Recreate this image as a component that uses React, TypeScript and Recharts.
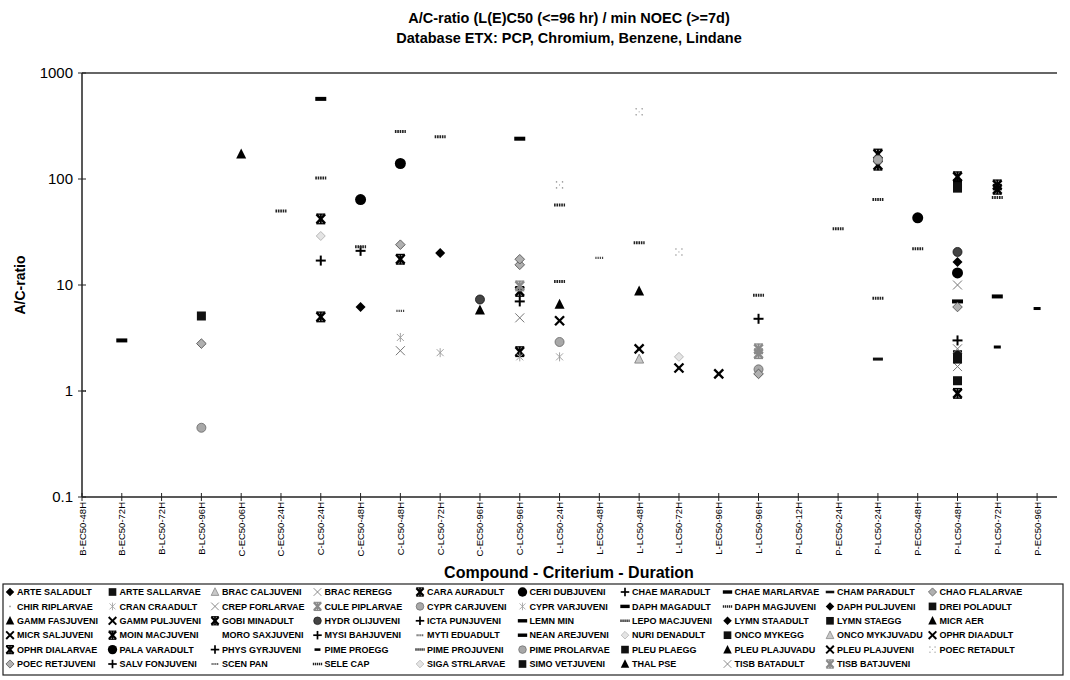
import React from 'react';
import { ScatterChart, Scatter, XAxis, YAxis, ReferenceLine } from 'recharts';

// ---------- Data ----------
const CATEGORIES = [
  'B-EC50-48H', 'B-EC50-72H', 'B-LC50-72H', 'B-LC50-96H',
  'C-EC50-06H', 'C-EC50-24H', 'C-LC50-24H', 'C-EC50-48H', 'C-LC50-48H', 'C-LC50-72H', 'C-EC50-96H', 'C-LC50-96H',
  'L-LC50-24H', 'L-EC50-48H', 'L-LC50-48H', 'L-LC50-72H', 'L-EC50-96H', 'L-LC50-96H',
  'P-LC50-12H', 'P-EC50-24H', 'P-LC50-24H', 'P-EC50-48H', 'P-LC50-48H', 'P-LC50-72H', 'P-EC50-96H',
];

const Y_TICKS = [0.1, 1, 10, 100, 1000];

const SERIES_NAMES = [
  'ARTE SALADULT', 'ARTE SALLARVAE', 'BRAC CALJUVENI', 'BRAC REREGG', 'CARA AURADULT',
  'CERI DUBJUVENI', 'CHAE MARADULT', 'CHAE MARLARVAE', 'CHAM PARADULT', 'CHAO FLALARVAE',
  'CHIR RIPLARVAE', 'CRAN CRAADULT', 'CREP FORLARVAE', 'CULE PIPLARVAE', 'CYPR CARJUVENI',
  'CYPR VARJUVENI', 'DAPH MAGADULT', 'DAPH MAGJUVENI', 'DAPH PULJUVENI', 'DREI POLADULT',
  'GAMM FASJUVENI', 'GAMM PULJUVENI', 'GOBI MINADULT', 'HYDR OLIJUVENI', 'ICTA PUNJUVENI',
  'LEMN MIN', 'LEPO MACJUVENI', 'LYMN STAADULT', 'LYMN STAEGG', 'MICR AER',
  'MICR SALJUVENI', 'MOIN MACJUVENI', 'MORO SAXJUVENI', 'MYSI BAHJUVENI', 'MYTI EDUADULT',
  'NEAN AREJUVENI', 'NURI DENADULT', 'ONCO MYKEGG', 'ONCO MYKJUVADU', 'OPHR DIAADULT',
  'OPHR DIALARVAE', 'PALA VARADULT', 'PHYS GYRJUVENI', 'PIME PROEGG', 'PIME PROJUVENI',
  'PIME PROLARVAE', 'PLEU PLAEGG', 'PLEU PLAJUVADU', 'PLEU PLAJUVENI', 'POEC RETADULT',
  'POEC RETJUVENI', 'SALV FONJUVENI', 'SCEN PAN', 'SELE CAP', 'SIGA STRLARVAE',
  'SIMO VETJUVENI', 'THAL PSE', 'TISB BATADULT', 'TISB BATJUVENI',
];

type Obs = [string, string, number];

const BENZENE_POINTS: Obs[] = [
  ['SCEN PAN', 'B-EC50-48H', 1.0],
  ['LEMN MIN', 'B-EC50-72H', 3.0],
  ['ARTE SALLARVAE', 'B-LC50-96H', 5.1],
  ['CHAO FLALARVAE', 'B-LC50-96H', 2.8],
  ['CYPR CARJUVENI', 'B-LC50-96H', 0.45],
];

const CHROMIUM_POINTS: Obs[] = [
  ['MICR AER', 'C-EC50-06H', 172],
  ['SELE CAP', 'C-EC50-24H', 50],
  ['DAPH MAGADULT', 'C-LC50-24H', 570],
  ['DAPH MAGJUVENI', 'C-LC50-24H', 102],
  ['CARA AURADULT', 'C-LC50-24H', 42],
  ['SIGA STRLARVAE', 'C-LC50-24H', 29],
  ['CHAE MARADULT', 'C-LC50-24H', 17],
  ['GOBI MINADULT', 'C-LC50-24H', 5],
  ['CERI DUBJUVENI', 'C-EC50-48H', 64],
  ['PIME PROJUVENI', 'C-EC50-48H', 23],
  ['ICTA PUNJUVENI', 'C-EC50-48H', 21],
  ['DAPH PULJUVENI', 'C-EC50-48H', 6.2],
  ['PIME PROJUVENI', 'C-LC50-48H', 280],
  ['PALA VARADULT', 'C-LC50-48H', 140],
  ['POEC RETJUVENI', 'C-LC50-48H', 24],
  ['MOIN MACJUVENI', 'C-LC50-48H', 17.5],
  ['MYTI EDUADULT', 'C-LC50-48H', 5.7],
  ['CYPR VARJUVENI', 'C-LC50-48H', 3.2],
  ['TISB BATADULT', 'C-LC50-48H', 2.4],
  ['LEPO MACJUVENI', 'C-LC50-72H', 250],
  ['ARTE SALADULT', 'C-LC50-72H', 20],
  ['CRAN CRAADULT', 'C-LC50-72H', 2.3],
  ['HYDR OLIJUVENI', 'C-EC50-96H', 7.3],
  ['GAMM FASJUVENI', 'C-EC50-96H', 5.8],
  ['NEAN AREJUVENI', 'C-LC50-96H', 240],
  ['POEC RETJUVENI', 'C-LC50-96H', 17.5],
  ['CHAO FLALARVAE', 'C-LC50-96H', 15.5],
  ['TISB BATJUVENI', 'C-LC50-96H', 9.8],
  ['OPHR DIALARVAE', 'C-LC50-96H', 8.7],
  ['MYSI BAHJUVENI', 'C-LC50-96H', 7.0],
  ['CREP FORLARVAE', 'C-LC50-96H', 4.9],
  ['CARA AURADULT', 'C-LC50-96H', 2.35],
  ['CYPR VARJUVENI', 'C-LC50-96H', 2.1],
];

const LINDANE_POINTS: Obs[] = [
  ['POEC RETADULT', 'L-LC50-24H', 88],
  ['PIME PROJUVENI', 'L-LC50-24H', 57],
  ['LEPO MACJUVENI', 'L-LC50-24H', 10.8],
  ['PLEU PLAJUVADU', 'L-LC50-24H', 6.6],
  ['GAMM PULJUVENI', 'L-LC50-24H', 4.6],
  ['CYPR CARJUVENI', 'L-LC50-24H', 2.9],
  ['CRAN CRAADULT', 'L-LC50-24H', 2.1],
  ['MYTI EDUADULT', 'L-EC50-48H', 18],
  ['POEC RETADULT', 'L-LC50-48H', 430],
  ['DAPH MAGJUVENI', 'L-LC50-48H', 25],
  ['THAL PSE', 'L-LC50-48H', 8.8],
  ['MICR SALJUVENI', 'L-LC50-48H', 2.5],
  ['BRAC CALJUVENI', 'L-LC50-48H', 2.0],
  ['POEC RETADULT', 'L-LC50-72H', 20.5],
  ['NURI DENADULT', 'L-LC50-72H', 2.1],
  ['OPHR DIAADULT', 'L-LC50-72H', 1.65],
  ['PLEU PLAJUVENI', 'L-EC50-96H', 1.45],
  ['LEPO MACJUVENI', 'L-LC50-96H', 8.0],
  ['SALV FONJUVENI', 'L-LC50-96H', 4.8],
  ['CULE PIPLARVAE', 'L-LC50-96H', 2.5],
  ['TISB BATJUVENI', 'L-LC50-96H', 2.25],
  ['PIME PROLARVAE', 'L-LC50-96H', 1.6],
  ['POEC RETJUVENI', 'L-LC50-96H', 1.45],
];

const PCP_POINTS: Obs[] = [
  ['SELE CAP', 'P-EC50-24H', 34],
  ['OPHR DIALARVAE', 'P-LC50-24H', 172],
  ['PIME PROLARVAE', 'P-LC50-24H', 152],
  ['GOBI MINADULT', 'P-LC50-24H', 135],
  ['DAPH MAGJUVENI', 'P-LC50-24H', 64],
  ['LEPO MACJUVENI', 'P-LC50-24H', 7.5],
  ['CHAM PARADULT', 'P-LC50-24H', 2.0],
  ['PALA VARADULT', 'P-EC50-48H', 43],
  ['PIME PROJUVENI', 'P-EC50-48H', 22],
  ['MOIN MACJUVENI', 'P-LC50-48H', 105],
  ['LYMN STAEGG', 'P-LC50-48H', 90],
  ['PLEU PLAEGG', 'P-LC50-48H', 82],
  ['HYDR OLIJUVENI', 'P-LC50-48H', 20.5],
  ['LYMN STAADULT', 'P-LC50-48H', 16.5],
  ['CERI DUBJUVENI', 'P-LC50-48H', 13],
  ['BRAC REREGG', 'P-LC50-48H', 10],
  ['NEAN AREJUVENI', 'P-LC50-48H', 7.0],
  ['POEC RETJUVENI', 'P-LC50-48H', 6.2],
  ['PHYS GYRJUVENI', 'P-LC50-48H', 3.0],
  ['TISB BATADULT', 'P-LC50-48H', 2.5],
  ['DREI POLADULT', 'P-LC50-48H', 2.2],
  ['ONCO MYKEGG', 'P-LC50-48H', 2.0],
  ['CREP FORLARVAE', 'P-LC50-48H', 1.7],
  ['SIMO VETJUVENI', 'P-LC50-48H', 1.25],
  ['CARA AURADULT', 'P-LC50-48H', 0.95],
  ['OPHR DIALARVAE', 'P-LC50-72H', 88],
  ['GOBI MINADULT', 'P-LC50-72H', 80],
  ['PIME PROJUVENI', 'P-LC50-72H', 67],
  ['CHAE MARLARVAE', 'P-LC50-72H', 7.8],
  ['PIME PROEGG', 'P-LC50-72H', 2.6],
  ['PIME PROEGG', 'P-EC50-96H', 6.0],
];

// ---------- Styles (marker per series) ----------
type MarkerType =
  | 'diamond' | 'square' | 'triangle' | 'triangleGray' | 'circle' | 'circleGray' | 'circleDark'
  | 'plus' | 'x' | 'xbar' | 'xbarGray' | 'xthin' | 'dash' | 'dashSmall' | 'dashThin' | 'dashDot'
  | 'dashDotSmall' | 'diamondGray' | 'diamondLight' | 'star' | 'dots' | 'dot' | 'none';

const SERIES_MARKER: Record<string, MarkerType> = {
  'ARTE SALADULT': 'diamond', 'ARTE SALLARVAE': 'square', 'BRAC CALJUVENI': 'triangleGray',
  'BRAC REREGG': 'xthin', 'CARA AURADULT': 'xbar', 'CERI DUBJUVENI': 'circle',
  'CHAE MARADULT': 'plus', 'CHAE MARLARVAE': 'dash', 'CHAM PARADULT': 'dashThin',
  'CHAO FLALARVAE': 'diamondGray', 'CHIR RIPLARVAE': 'dot', 'CRAN CRAADULT': 'star',
  'CREP FORLARVAE': 'xthin', 'CULE PIPLARVAE': 'xbarGray', 'CYPR CARJUVENI': 'circleGray',
  'CYPR VARJUVENI': 'star', 'DAPH MAGADULT': 'dash', 'DAPH MAGJUVENI': 'dashDot',
  'DAPH PULJUVENI': 'diamond', 'DREI POLADULT': 'square', 'GAMM FASJUVENI': 'triangle',
  'GAMM PULJUVENI': 'x', 'GOBI MINADULT': 'xbar', 'HYDR OLIJUVENI': 'circleDark',
  'ICTA PUNJUVENI': 'plus', 'LEMN MIN': 'dash', 'LEPO MACJUVENI': 'dashDot',
  'LYMN STAADULT': 'diamond', 'LYMN STAEGG': 'square', 'MICR AER': 'triangle',
  'MICR SALJUVENI': 'x', 'MOIN MACJUVENI': 'xbar', 'MORO SAXJUVENI': 'none',
  'MYSI BAHJUVENI': 'plus', 'MYTI EDUADULT': 'dashDotSmall', 'NEAN AREJUVENI': 'dash',
  'NURI DENADULT': 'diamondLight', 'ONCO MYKEGG': 'square', 'ONCO MYKJUVADU': 'triangleGray',
  'OPHR DIAADULT': 'x', 'OPHR DIALARVAE': 'xbar', 'PALA VARADULT': 'circle',
  'PHYS GYRJUVENI': 'plus', 'PIME PROEGG': 'dashSmall', 'PIME PROJUVENI': 'dashDot',
  'PIME PROLARVAE': 'circleGray', 'PLEU PLAEGG': 'square', 'PLEU PLAJUVADU': 'triangle',
  'PLEU PLAJUVENI': 'x', 'POEC RETADULT': 'dots', 'POEC RETJUVENI': 'diamondGray',
  'SALV FONJUVENI': 'plus', 'SCEN PAN': 'dashDotSmall', 'SELE CAP': 'dashDot',
  'SIGA STRLARVAE': 'diamondLight', 'SIMO VETJUVENI': 'square', 'THAL PSE': 'triangle',
  'TISB BATADULT': 'xthin', 'TISB BATJUVENI': 'xbarGray',
};

const FONT = "Arial, 'Liberation Sans', Helvetica, sans-serif";

function Marker({ type, cx, cy }: { type: MarkerType; cx: number; cy: number }) {
  if (cx == null || cy == null || isNaN(cx) || isNaN(cy)) return null;
  const d = (s: number) => `${cx},${cy - s} ${cx + s},${cy} ${cx},${cy + s} ${cx - s},${cy}`;
  switch (type) {
    case 'diamond':
      return <polygon points={d(5)} fill="#000" />;
    case 'diamondGray':
      return <polygon points={d(4.8)} fill="#b0b0b0" stroke="#555" strokeWidth={0.9} />;
    case 'diamondLight':
      return <polygon points={d(4.5)} fill="#e4e4e4" stroke="#aaa" strokeWidth={0.8} />;
    case 'square':
      return <rect x={cx - 4.5} y={cy - 4.5} width={9} height={9} fill="#111" />;
    case 'triangle':
      return <polygon points={`${cx},${cy - 5.5} ${cx + 5},${cy + 4.5} ${cx - 5},${cy + 4.5}`} fill="#000" />;
    case 'triangleGray':
      return <polygon points={`${cx},${cy - 5} ${cx + 4.5},${cy + 4} ${cx - 4.5},${cy + 4}`} fill="#c8c8c8" stroke="#777" strokeWidth={0.8} />;
    case 'circle':
      return <circle cx={cx} cy={cy} r={5.5} fill="#000" />;
    case 'circleGray':
      return <circle cx={cx} cy={cy} r={4.5} fill="#a8a8a8" stroke="#666" strokeWidth={0.8} />;
    case 'circleDark':
      return <circle cx={cx} cy={cy} r={4.5} fill="#444" stroke="#111" strokeWidth={0.8} />;
    case 'plus':
      return (
        <g stroke="#000" strokeWidth={2}>
          <line x1={cx - 5} y1={cy} x2={cx + 5} y2={cy} />
          <line x1={cx} y1={cy - 5} x2={cx} y2={cy + 5} />
        </g>
      );
    case 'x':
      return (
        <g stroke="#000" strokeWidth={2.3}>
          <line x1={cx - 4.5} y1={cy - 4.5} x2={cx + 4.5} y2={cy + 4.5} />
          <line x1={cx - 4.5} y1={cy + 4.5} x2={cx + 4.5} y2={cy - 4.5} />
        </g>
      );
    case 'xbar':
    case 'xbarGray': {
      const c = type === 'xbar' ? '#000' : '#8a8a8a';
      return (
        <g stroke={c}>
          <line x1={cx - 4.2} y1={cy - 4.5} x2={cx + 4.2} y2={cy + 4.5} strokeWidth={2.6} />
          <line x1={cx - 4.2} y1={cy + 4.5} x2={cx + 4.2} y2={cy - 4.5} strokeWidth={2.6} />
          <line x1={cx} y1={cy - 5} x2={cx} y2={cy + 5} strokeWidth={2} />
          <line x1={cx - 4.5} y1={cy - 4.8} x2={cx + 4.5} y2={cy - 4.8} strokeWidth={1.3} />
          <line x1={cx - 4.5} y1={cy + 4.8} x2={cx + 4.5} y2={cy + 4.8} strokeWidth={1.3} />
        </g>
      );
    }
    case 'xthin':
      return (
        <g stroke="#777" strokeWidth={1}>
          <line x1={cx - 4.5} y1={cy - 4.5} x2={cx + 4.5} y2={cy + 4.5} />
          <line x1={cx - 4.5} y1={cy + 4.5} x2={cx + 4.5} y2={cy - 4.5} />
        </g>
      );
    case 'dash':
      return <rect x={cx - 5.5} y={cy - 2} width={11} height={4} fill="#000" />;
    case 'dashSmall':
      return <rect x={cx - 3.5} y={cy - 1.5} width={7} height={3} fill="#000" />;
    case 'dashThin':
      return <rect x={cx - 5} y={cy - 1.5} width={10} height={3} fill="#111" />;
    case 'dashDot':
      return <line x1={cx - 5.5} y1={cy} x2={cx + 5.5} y2={cy} stroke="#222" strokeWidth={3} strokeDasharray="1.6 0.8" />;
    case 'dashDotSmall':
      return <line x1={cx - 4} y1={cy} x2={cx + 4} y2={cy} stroke="#444" strokeWidth={2.2} strokeDasharray="1.2 1" />;
    case 'star':
      return (
        <g stroke="#999" strokeWidth={0.9}>
          <line x1={cx} y1={cy - 4.5} x2={cx} y2={cy + 4.5} />
          <line x1={cx - 3.5} y1={cy - 3.5} x2={cx + 3.5} y2={cy + 3.5} />
          <line x1={cx - 3.5} y1={cy + 3.5} x2={cx + 3.5} y2={cy - 3.5} />
        </g>
      );
    case 'dots':
      return (
        <g fill="#999">
          <circle cx={cx - 3} cy={cy - 3} r={0.8} />
          <circle cx={cx + 3} cy={cy - 3} r={0.8} />
          <circle cx={cx - 3} cy={cy + 3} r={0.8} />
          <circle cx={cx + 3} cy={cy + 3} r={0.8} />
          <circle cx={cx} cy={cy} r={0.6} />
        </g>
      );
    case 'dot':
      return <circle cx={cx} cy={cy} r={1} fill="#999" />;
    default:
      return null;
  }
}

// ---------- Build series ----------
const ALL_POINTS: Obs[] = [...BENZENE_POINTS, ...CHROMIUM_POINTS, ...LINDANE_POINTS, ...PCP_POINTS];

const SERIES = SERIES_NAMES.map((name) => ({
  name,
  marker: SERIES_MARKER[name],
  data: ALL_POINTS.filter((p) => p[0] === name).map((p) => ({ x: CATEGORIES.indexOf(p[1]), y: p[2] })),
})).filter((s) => s.data.length > 0);

// ---------- Ticks ----------
const XTick = (props: any) => {
  const { x, y, payload } = props;
  const label = CATEGORIES[payload.value];
  return (
    <g>
      <line x1={x} x2={x} y1={y - 4} y2={y + 4} stroke="#222" strokeWidth={1} />
      <text
        transform={`translate(${x + 3.5},${y + 5}) rotate(-90)`}
        textAnchor="end"
        fontSize={9.5}
        fontFamily={FONT}
        fill="#000"
      >
        {label}
      </text>
    </g>
  );
};

const YTick = (props: any) => {
  const { x, y, payload } = props;
  return (
    <g>
      <line x1={x - 4} x2={x + 4} y1={y} y2={y} stroke="#222" strokeWidth={1} />
      <text x={x - 9} y={y} dy="0.35em" textAnchor="end" fontSize={15} fontFamily={FONT} fill="#000">
        {String(payload.value)}
      </text>
    </g>
  );
};

// ---------- Legend layout ----------
const LEGEND_LEFT = 3;
const LEGEND_TOP = 584;
const LEGEND_W = 1060;
const LEGEND_H = 91;
const COL_X0 = 10;
const COL_STEP = 102.5;
const ROW_Y0 = 592;
const ROW_STEP = 14.4;

export default function App() {
  return (
    <div style={{ position: 'absolute', left: 0, top: 0, width: 1070, height: 680, background: '#fff' }}>
      <ScatterChart width={1070} height={680} margin={{ top: 73, right: 13, bottom: 0, left: 0 }}>
        <XAxis
          type="number"
          dataKey="x"
          domain={[0, 24.5]}
          ticks={CATEGORIES.map((_, i) => i)}
          interval={0}
          allowDataOverflow
          height={183}
          tickSize={0}
          tickMargin={0}
          tickLine={false}
          tick={<XTick />}
          axisLine={{ stroke: '#222', strokeWidth: 1.5 }}
        />
        <YAxis
          type="number"
          dataKey="y"
          scale="log"
          domain={[0.1, 1000]}
          ticks={Y_TICKS}
          interval={0}
          allowDataOverflow
          width={82}
          tickSize={0}
          tickMargin={0}
          tickLine={false}
          tick={<YTick />}
          axisLine={{ stroke: '#222', strokeWidth: 1.5 }}
        />
        <ReferenceLine y={1000} stroke="#333" strokeWidth={1.5} />
        {SERIES.map((s) => (
          <Scatter
            key={s.name}
            name={s.name}
            data={s.data}
            isAnimationActive={false}
            shape={(p: any) => <Marker type={s.marker} cx={p.cx} cy={p.cy} />}
          />
        ))}
      </ScatterChart>
      <svg
        width={1070}
        height={680}
        style={{ position: 'absolute', left: 0, top: 0, pointerEvents: 'none' }}
        fontFamily={FONT}
      >
        <text x={569} y={23} textAnchor="middle" fontSize={14.5} fontWeight="bold">
          A/C-ratio (L(E)C50 (&lt;=96 hr) / min NOEC (&gt;=7d)
        </text>
        <text x={569} y={43} textAnchor="middle" fontSize={14.5} fontWeight="bold">
          Database ETX: PCP, Chromium, Benzene, Lindane
        </text>
        <text transform="translate(25,285) rotate(-90)" textAnchor="middle" fontSize={14} fontWeight="bold">
          A/C-ratio
        </text>
        <text x={569} y={578} textAnchor="middle" fontSize={16} fontWeight="bold">
          Compound - Criterium - Duration
        </text>
        <rect x={LEGEND_LEFT} y={LEGEND_TOP} width={LEGEND_W} height={LEGEND_H} fill="#fff" stroke="#222" strokeWidth={1.2} />
        {SERIES_NAMES.map((name, i) => {
          const col = i % 10;
          const row = Math.floor(i / 10);
          const mx = COL_X0 + col * COL_STEP;
          const my = ROW_Y0 + row * ROW_STEP;
          return (
            <g key={name}>
              <g transform={`translate(${mx},${my}) scale(0.85)`}>
                <Marker type={SERIES_MARKER[name]} cx={0} cy={0} />
              </g>
              <text x={mx + 7} y={my} dy="0.35em" fontSize={9} fontWeight="bold">
                {name}
              </text>
            </g>
          );
        })}
      </svg>
    </div>
  );
}
